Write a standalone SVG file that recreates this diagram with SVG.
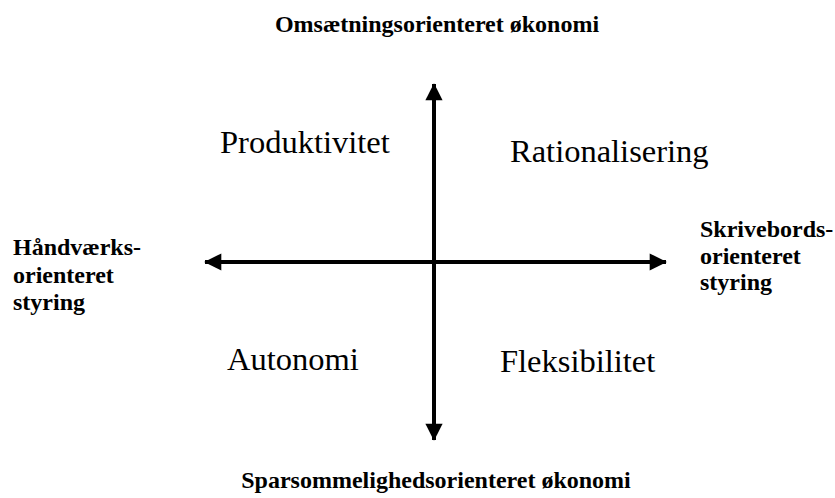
<svg xmlns="http://www.w3.org/2000/svg" width="835" height="498" viewBox="0 0 835 498">
<defs>
<style>
.b{font-family:"Liberation Serif","Times New Roman",serif;font-weight:bold;font-size:24px;fill:#000}
.q{font-family:"Liberation Serif","Times New Roman",serif;font-size:32.5px;fill:#000}
.ax{stroke:#000;stroke-width:4;fill:none}
</style>
<marker id="ah" viewBox="0 0 10 10" refX="9.5" refY="5" markerWidth="4.5" markerHeight="4.3" markerUnits="strokeWidth" orient="auto-start-reverse">
<path d="M0,0 L10,5 L0,10 z" fill="#000"/>
</marker>
</defs>
<rect width="835" height="498" fill="#fff"/>
<g id="connectors">
<line class="ax" x1="434" y1="84" x2="434" y2="440" marker-start="url(#ah)" marker-end="url(#ah)"/>
<line class="ax" x1="205" y1="262" x2="666" y2="262" marker-start="url(#ah)" marker-end="url(#ah)"/>
</g>
<g id="top"><text class="b" x="437" y="32" text-anchor="middle">Omsætningsorienteret økonomi</text></g>
<g id="bottom"><text class="b" x="436" y="488" text-anchor="middle">Sparsommelighedsorienteret økonomi</text></g>
<g id="left"><text class="b" x="13" y="255">Håndværks-</text><text class="b" x="13" y="283">orienteret</text><text class="b" x="13" y="310">styring</text></g>
<g id="right"><text class="b" x="700" y="237">Skrivebords-</text><text class="b" x="700" y="264">orienteret</text><text class="b" x="700" y="290">styring</text></g>
<g id="q1"><text class="q" x="220" y="153">Produktivitet</text></g>
<g id="q2"><text class="q" x="510" y="162">Rationalisering</text></g>
<g id="q3"><text class="q" x="227" y="370">Autonomi</text></g>
<g id="q4"><text class="q" x="500" y="372">Fleksibilitet</text></g>
</svg>
